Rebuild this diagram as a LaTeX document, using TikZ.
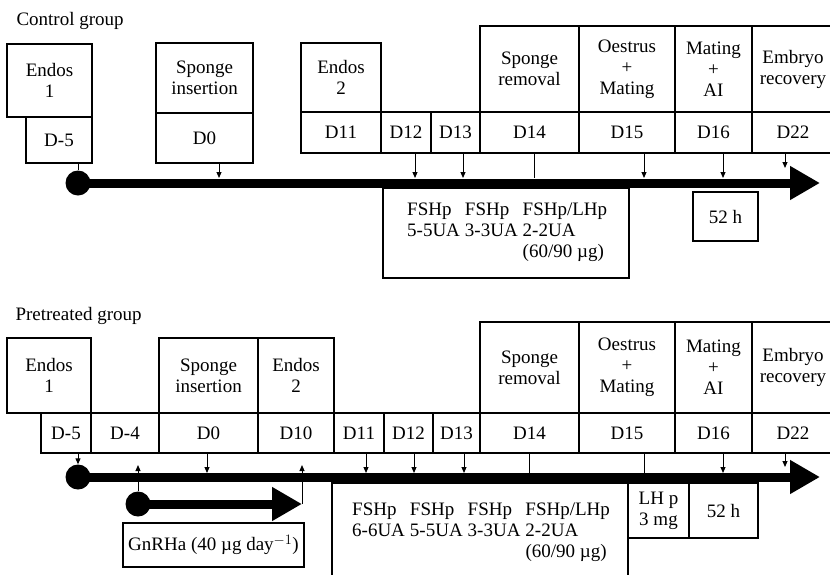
\documentclass[tikz,border=0pt]{standalone}
\usepackage{fontspec}
\setmainfont{Liberation Serif}
\usetikzlibrary{arrows.meta,positioning}

\begin{document}
\begin{tikzpicture}[x=1pt,y=-1pt,
  every node/.style={font=\fontsize{19}{21}\selectfont},
  evbox/.style={draw,line width=1.4pt,align=center,inner sep=0pt,outer sep=0pt,anchor=north west},
  timeline/.style={line width=9pt,-{Triangle[length=30pt,width=32pt]}},
  dot/.style={circle,fill,inner sep=0pt,minimum size=25pt},
  tick/.style={line width=1pt,-{Triangle[length=6pt,width=5pt]}},
  stem/.style={line width=1pt}]
  \useasboundingbox (0,0) rectangle (830,574);
  % control group
  \node[anchor=base west] (titleA) at (13,25) {Control group};
  \node[evbox,minimum width=85pt,minimum height=73pt] (endosA) at (7,44) {Endos\\1};
  \node[evbox,minimum width=66pt,minimum height=46pt] (dm5A) at (26,117) {D-5};
  \node[evbox,minimum width=97pt,minimum height=70pt] (sponA) at (156,43) {Sponge\\insertion};
  \node[evbox,minimum width=97pt,minimum height=50pt] (d0A) at (sponA.south west) {D0};
  \node[evbox,minimum width=80pt,minimum height=69pt] (endos2A) at (301,43) {Endos\\2};
  \node[evbox,minimum width=80pt,minimum height=41pt] (d11A) at (endos2A.south west) {D11};
  \node[evbox,minimum width=50pt,minimum height=41pt] (d12A) at (d11A.north east) {D12};
  \node[evbox,minimum width=49pt,minimum height=41pt] (d13A) at (d12A.north east) {D13};
  \node[evbox,minimum width=99pt,minimum height=41pt] (d14A) at (d13A.north east) {D14};
  \node[evbox,minimum width=96pt,minimum height=41pt] (d15A) at (d14A.north east) {D15};
  \node[evbox,minimum width=77pt,minimum height=41pt] (d16A) at (d15A.north east) {D16};
  \node[evbox,minimum width=82pt,minimum height=41pt] (d22A) at (d16A.north east) {D22};
  \node[evbox,anchor=south west,minimum width=99pt,minimum height=86pt] (remA) at (d14A.north west) {Sponge\\removal};
  \node[evbox,anchor=south west,minimum width=96pt,minimum height=86pt] (oesA) at (d15A.north west) {Oestrus\\+\\Mating};
  \node[evbox,anchor=south west,minimum width=77pt,minimum height=86pt] (matA) at (d16A.north west) {Mating\\+\\AI};
  \node[evbox,anchor=south west,minimum width=82pt,minimum height=86pt] (embA) at (d22A.north west) {Embryo\\recovery};
  \node[dot] (startA) at (78,183) {};
  \coordinate (endA) at (820,183);
  \draw[timeline] (startA.center) -- (endA);
  \node[evbox,minimum width=246pt,minimum height=90pt] (fshA) at (383,188) {};
  \node[anchor=base west,inner sep=0pt] (doseA) at (407,215) {\begin{tabular}[t]{@{}l@{\hspace{5pt}}l@{\hspace{5pt}}l@{}}
    FSHp & FSHp & FSHp/LHp\\
    5-5UA & 3-3UA & 2-2UA\\
     & & (60/90 µg)\end{tabular}};
  \node[evbox,minimum width=65pt,minimum height=49pt] (h52A) at (693,192) {52 h};
  \coordinate (t0A) at (219,178);
  \coordinate (t12A) at (415,178);
  \coordinate (t13A) at (463,178);
  \coordinate (t14A) at (534,178);
  \coordinate (t15A) at (644,178);
  \coordinate (t16A) at (723,178);
  \coordinate (t22A) at (785,168);
  \draw[stem] (startA |- dm5A.south) -- (startA.north);
  \draw[tick] (t0A |- d0A.south) -- (t0A);
  \draw[tick] (t12A |- d12A.south) -- (t12A);
  \draw[tick] (t13A |- d13A.south) -- (t13A);
  \draw[stem] (t14A |- d14A.south) -- (t14A);
  \draw[tick] (t15A |- d15A.south) -- (t15A);
  \draw[tick] (t16A |- d16A.south) -- (t16A);
  \draw[tick] (t22A |- d22A.south) -- (t22A);
  % pretreated group
  \node[anchor=base west] (titleB) at (12,320) {Pretreated group};
  \node[evbox,minimum width=84pt,minimum height=75pt] (endosB) at (7,338) {Endos\\1};
  \node[evbox,minimum width=50pt,minimum height=40pt] (dm5B) at (41,413) {D-5};
  \node[evbox,minimum width=68pt,minimum height=40pt] (dm4B) at (dm5B.north east) {D-4};
  \node[evbox,minimum width=99pt,minimum height=40pt] (d0B) at (dm4B.north east) {D0};
  \node[evbox,minimum width=76pt,minimum height=40pt] (d10B) at (d0B.north east) {D10};
  \node[evbox,minimum width=50pt,minimum height=40pt] (d11B) at (d10B.north east) {D11};
  \node[evbox,minimum width=49pt,minimum height=40pt] (d12B) at (d11B.north east) {D12};
  \node[evbox,minimum width=47pt,minimum height=40pt] (d13B) at (d12B.north east) {D13};
  \node[evbox,minimum width=99pt,minimum height=40pt] (d14B) at (d13B.north east) {D14};
  \node[evbox,minimum width=96pt,minimum height=40pt] (d15B) at (d14B.north east) {D15};
  \node[evbox,minimum width=77pt,minimum height=40pt] (d16B) at (d15B.north east) {D16};
  \node[evbox,minimum width=82pt,minimum height=40pt] (d22B) at (d16B.north east) {D22};
  \node[evbox,anchor=south west,minimum width=99pt,minimum height=75pt] (sponB) at (d0B.north west) {Sponge\\insertion};
  \node[evbox,anchor=south west,minimum width=76pt,minimum height=75pt] (endos2B) at (d10B.north west) {Endos\\2};
  \node[evbox,anchor=south west,minimum width=99pt,minimum height=91pt] (remB) at (d14B.north west) {Sponge\\removal};
  \node[evbox,anchor=south west,minimum width=96pt,minimum height=91pt] (oesB) at (d15B.north west) {Oestrus\\+\\Mating};
  \node[evbox,anchor=south west,minimum width=77pt,minimum height=91pt] (matB) at (d16B.north west) {Mating\\+\\AI};
  \node[evbox,anchor=south west,minimum width=82pt,minimum height=91pt] (embB) at (d22B.north west) {Embryo\\recovery};
  \node[dot] (startB) at (78,477) {};
  \coordinate (endB) at (820,477);
  \draw[timeline] (startB.center) -- (endB);
  \node[dot] (gnDot) at (138,504) {};
  \coordinate (gnEnd) at (302,504);
  \draw[timeline] (gnDot.center) -- (gnEnd);
  \node[evbox,minimum width=181pt,minimum height=44pt] (gnBox) at (123,523) {GnRHa (40 µg day$^{-1}$)};
  \node[evbox,minimum width=296pt,minimum height=110pt] (fshB) at (332,483) {};
  \node[anchor=base west,inner sep=0pt] (doseB) at (352,515) {\begin{tabular}[t]{@{}l@{\hspace{5pt}}l@{\hspace{5pt}}l@{\hspace{5pt}}l@{}}
    FSHp & FSHp & FSHp & FSHp/LHp\\
    6-6UA & 5-5UA & 3-3UA & 2-2UA\\
     & & & (60/90 µg)\end{tabular}};
  \node[evbox,minimum width=61pt,minimum height=55pt] (lhB) at (fshB.north east) {LH p\\3 mg};
  \node[evbox,minimum width=69pt,minimum height=55pt] (h52B) at (lhB.north east) {52 h};
  \coordinate (t4B) at (138,465);
  \coordinate (t10B) at (302,465);
  \coordinate (t0B) at (207,473);
  \coordinate (t11B) at (366,473);
  \coordinate (t12B) at (414,473);
  \coordinate (t13B) at (464,473);
  \coordinate (t14B) at (529,477);
  \coordinate (t15B) at (644,477);
  \coordinate (t16B) at (723,473);
  \coordinate (t22B) at (785,467);
  \draw[tick] (startB |- dm5B.south) -- (startB.north);
  \draw[tick] (gnDot.north) -- (t4B);
  \draw[tick] (gnEnd) -- (t10B);
  \draw[tick] (t0B |- d0B.south) -- (t0B);
  \draw[tick] (t11B |- d11B.south) -- (t11B);
  \draw[tick] (t12B |- d12B.south) -- (t12B);
  \draw[tick] (t13B |- d13B.south) -- (t13B);
  \draw[stem] (t14B |- d14B.south) -- (t14B);
  \draw[stem] (t15B |- d15B.south) -- (t15B |- lhB.north);
  \draw[tick] (t16B |- d16B.south) -- (t16B);
  \draw[tick] (t22B |- d22B.south) -- (t22B);
\end{tikzpicture}
\end{document}
